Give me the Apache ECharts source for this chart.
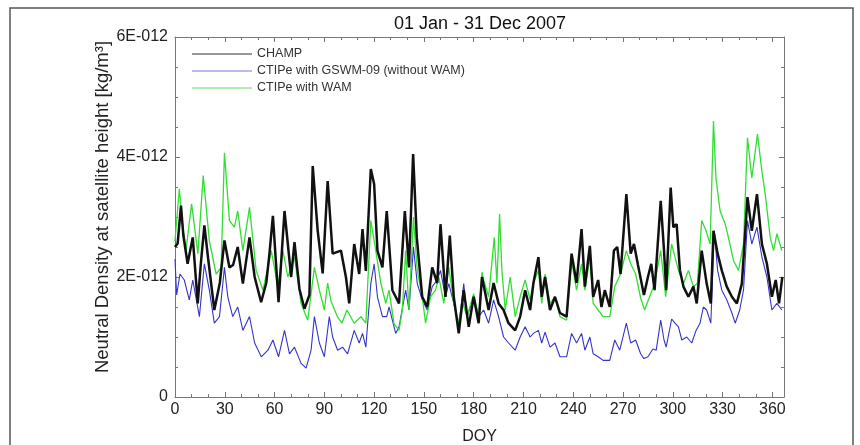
<!DOCTYPE html>
<html>
<head>
<meta charset="utf-8">
<script src="https://cdn.jsdelivr.net/npm/echarts@6/dist/echarts.min.js"></script>
<style>
html,body{margin:0;padding:0;background:#fff;}
#c{width:860px;height:445px;}
</style>
</head>
<body>
<div id="c"></div>
<script>
// Values in units of 1E-012 kg/m^3, x = day of year
const yTicks = [0, 2, 4, 6];
const xTicks = [0, 30, 60, 90, 120, 150, 180, 210, 240, 270, 300, 330, 360];
const seriesNames = ['CHAMP', 'CTIPe with GSWM-09 (without WAM)', 'CTIPe with WAM'];
const yAxisTitle = 'Neutral Density at satellite height [kg/m³]';

const champDoy = [0,1.6,3.6,5,7.6,10.7,13.7,15.5,17.7,20,23.7,27,29.8,32.8,35,37.8,40.9,44.9,48,51.9,55,57,59,62.4,66,70,72,75,78,81,83,86,89,92,95,100,103,105,108,111,113,115,118,120,122,125,127.6,131,135,138.5,141,143.5,145.7,149,152,155,158,160,163,165.6,168,171,174,177,180,183,185,189,192,195,198,201,205,208,211,214,216,219,221,223,226,229,232,236,239,242,245,247,250,252,255,257,259,262,264.5,266.5,268.5,272,274.6,276.6,279,282.6,285,287,289,292.7,294.7,296,298.7,300.3,302.3,304.3,306.4,309.4,312.4,314.4,317.4,320.4,322.9,324.5,327,329.5,332.5,335.6,338.6,341.6,345,347.6,350.7,353.7,356.7,359.7,362,364,366];
const champDensity = [2.5,2.56,3.19,2.7,2.22,2.66,1.56,2.2,2.86,2.3,1.45,1.9,2.61,2.16,2.2,2.5,1.89,2.66,2.0,1.58,1.9,2.41,3.02,1.58,3.1,2.0,2.58,1.8,1.47,1.7,3.85,2.77,2.06,3.6,2.39,2.44,2.0,1.56,2.55,2.05,2.8,2.1,3.8,3.55,2.44,2.16,3.1,1.78,1.56,3.1,2.16,4.05,2.66,1.67,1.5,2.16,1.9,2.88,1.67,2.69,1.67,1.06,1.78,1.17,1.67,1.23,2.0,1.45,1.9,1.56,1.45,1.23,1.11,1.34,1.78,1.45,1.9,2.33,1.67,2.0,1.45,1.67,1.4,1.34,2.39,1.9,2.8,1.84,2.52,1.67,1.95,1.5,1.78,1.5,2.44,2.5,2.05,3.38,2.39,2.55,2.2,1.7,2.0,2.22,1.78,3.27,2.44,1.78,3.49,2.83,2.88,2.11,1.84,1.67,1.84,1.56,2.44,1.89,1.56,2.77,2.39,2.11,1.84,1.67,1.56,1.89,3.33,2.77,3.38,2.55,2.22,1.67,1.95,1.56,2.0];

const gswmDoy = [0,1,3,5.6,8.6,10.7,14.7,17.7,20.7,23.7,26.8,29.8,31.8,34.8,37.8,40.9,44.9,48,52,56,59,62.4,66,69,72,76,79,82,84,87,90,93,95,98,101,104,108,111,113,115,118,120,122,125,127.6,129,133,135,139,141,143.7,146,149,152,155,158,160,163,165,168,171,174,176,180,183,186,189,192,195,198,201,205,208,211,214,216,219,221,223,226,229,232,236,239,242,245,247,250,252,255,258,262,265,268,272,274.6,277.6,280.6,282.6,285,288,290,292.7,294.7,296,299.3,301.3,303.4,305.4,308.4,311.4,314,316.4,318.4,320.4,322.9,325,327,329.5,332.5,335.6,337.6,340.3,342.6,345,347.6,350.7,353.7,356.7,359.7,362.7,365.7];
const gswmDensity = [2.3,1.7,2.05,1.95,1.62,1.95,1.34,2.22,1.78,1.23,1.34,2.16,1.67,1.34,1.5,1.11,1.34,0.9,0.67,0.78,0.95,0.67,1.11,0.72,0.83,0.56,0.48,0.78,1.34,0.9,0.67,1.34,1.0,0.78,0.83,0.72,1.11,0.9,1.06,0.83,1.89,2.22,1.67,1.34,1.34,1.5,1.06,1.17,1.78,1.45,2.5,1.89,1.62,1.45,1.84,1.95,2.11,1.67,1.89,1.56,1.17,1.89,1.34,1.67,1.34,1.45,1.23,1.62,1.34,1.0,0.9,0.78,1.0,1.17,1.0,1.06,1.11,0.9,1.08,0.83,0.9,0.67,0.67,1.06,0.9,1.06,0.78,1.0,0.72,0.67,0.61,0.61,0.95,0.78,1.23,0.9,0.95,0.72,0.64,0.67,0.8,0.78,1.28,0.95,0.83,1.3,1.23,1.17,0.95,1.0,0.9,1.11,1.23,1.5,1.45,1.23,2.77,2.11,1.78,1.62,1.4,1.23,1.45,1.78,2.94,2.55,2.83,2.33,2.0,1.45,1.56,1.45];

const wamDoy = [0,2.6,4.5,6.6,10,13.8,17,20.7,24.8,27.8,29.8,32.8,35.8,37.8,40.9,44.9,48.9,53,56,58,62,65,68,72,76,80,84,87,90,92,94,98,100.6,103.6,108,112,115,118,121,124,127,129,132,135,137,139,141,143.7,146,149,151,154,157,159,162,165,168,171,173,176,180,183,185,186,189,192.4,194,195.6,197,199,202,205,208,211,214,216,219,221,223,226,229,232,236,239,242,245,247,250,252,255,258,262,265,268.5,272,274.6,277.6,280.6,283,286,289,292.7,295.7,299.3,301.3,303.4,306.4,309.4,312.4,314.8,317.4,320,322.5,324.5,326,328.5,331.6,334,336.6,339.6,342.6,345,347.6,351,353.7,355.7,358.7,360.7,362.7,365.7];
const wamDensity = [2.6,3.47,2.9,2.44,3.22,2.39,3.69,2.6,2.05,2.16,4.07,2.94,2.83,3.1,2.44,3.16,2.11,1.78,2.16,2.44,1.84,2.44,2.0,2.33,1.56,1.28,2.16,1.78,1.45,1.9,1.6,1.33,1.23,1.45,1.23,1.34,1.23,2.94,2.44,1.9,1.56,1.78,1.22,1.11,1.45,2.44,1.45,3.0,2.11,1.67,1.23,1.67,1.78,2.0,1.56,2.16,1.56,1.23,1.6,1.34,1.72,1.34,2.08,1.95,1.67,2.66,1.9,3.05,2.11,1.45,2.0,1.34,1.67,1.95,1.62,1.9,2.11,1.56,2.05,1.56,1.67,1.34,1.28,2.27,1.78,2.22,1.78,2.33,1.56,1.45,1.34,1.34,1.84,2.05,2.44,2.22,2.05,1.65,1.45,1.67,1.89,2.44,1.67,2.55,2.33,2.11,1.89,2.11,1.84,1.89,2.94,2.77,2.55,4.6,3.65,3.1,2.88,2.6,2.27,2.11,2.55,4.32,3.65,4.38,3.76,3.38,2.66,2.44,2.72,2.44];

const pairs = (xs, ys) => xs.map((x, i) => [x, ys[i]]);

const chart = echarts.init(document.getElementById('c'), null, {renderer: 'canvas'});
const FONT = '"Liberation Sans", Arial, sans-serif';
const axisLineStyle = {color: '#777', width: 1};

function xAxisDef(pos, showLabel) {
  return {
    type: 'value', position: pos, min: 0, max: 367, interval: 30,
    name: showLabel ? 'DOY' : '', nameLocation: 'middle', nameGap: 32,
    nameTextStyle: {fontFamily: FONT, fontSize: 16, color: '#222'},
    axisLine: {show: true, onZero: false, lineStyle: axisLineStyle},
    axisTick: {show: true, inside: true, length: 5, lineStyle: axisLineStyle},
    minorTick: {show: true, splitNumber: 3, length: 3, lineStyle: axisLineStyle},
    axisLabel: {show: showLabel, fontFamily: FONT, fontSize: 16, color: '#222', margin: 5,
      formatter: v => xTicks.indexOf(v) >= 0 ? String(v) : ''},
    splitLine: {show: false}
  };
}
function yAxisDef(pos, showLabel) {
  return {
    type: 'value', position: pos, min: 0, max: 6, interval: 2,
    axisLine: {show: true, onZero: false, lineStyle: axisLineStyle},
    axisTick: {show: true, inside: true, length: 5, lineStyle: axisLineStyle},
    minorTick: {show: true, splitNumber: 4, length: 3, lineStyle: axisLineStyle},
    axisLabel: {show: showLabel, fontFamily: FONT, fontSize: 16, color: '#222', margin: 7,
      formatter: v => yTicks.indexOf(v) < 0 ? '' : (v === 0 ? '0' : v + 'E-012')},
    splitLine: {show: false}
  };
}

chart.setOption({
  animation: false,
  backgroundColor: '#fff',
  title: {
    text: '01 Jan - 31 Dec 2007', left: 475, top: 10, textAlign: 'center',
    textStyle: {fontFamily: FONT, fontSize: 18, fontWeight: 'normal', color: '#111'}
  },
  legend: {
    orient: 'vertical', left: 187, top: 41, icon: 'rect', itemWidth: 60, itemHeight: 1.2, itemGap: 1,
    textStyle: {fontFamily: FONT, fontSize: 12.5, color: '#333', lineHeight: 16},
    data: seriesNames
  },
  graphic: [
    {type: 'rect', shape: {x: 10, y: 8, width: 843, height: 450},
     style: {fill: 'none', stroke: '#555', lineWidth: 1.5}, silent: true},
    {type: 'text', x: 103, y: 207, rotation: Math.PI / 2, silent: true,
     style: {text: yAxisTitle, font: '18.5px "Liberation Sans", Arial, sans-serif', fill: '#222',
             align: 'center', verticalAlign: 'middle'}}
  ],
  grid: {left: 175, right: 76, top: 37, bottom: 48, containLabel: false, outerBoundsMode: 'none'},
  xAxis: [xAxisDef('bottom', true), xAxisDef('top', false)],
  yAxis: [yAxisDef('left', true), yAxisDef('right', false)],
  series: [
    {name: seriesNames[0], type: 'line', data: pairs(champDoy, champDensity), symbol: 'none',
     lineStyle: {color: '#111', width: 2.5}, itemStyle: {color: '#333'}, z: 4},
    {name: seriesNames[1], type: 'line', data: pairs(gswmDoy, gswmDensity), symbol: 'none',
     lineStyle: {color: '#3434cc', width: 1.1}, itemStyle: {color: '#7777dd'}, z: 2},
    {name: seriesNames[2], type: 'line', data: pairs(wamDoy, wamDensity), symbol: 'none',
     lineStyle: {color: '#33dd33', width: 1.3}, itemStyle: {color: '#66dd66'}, z: 3}
  ]
});
</script>
</body>
</html>
